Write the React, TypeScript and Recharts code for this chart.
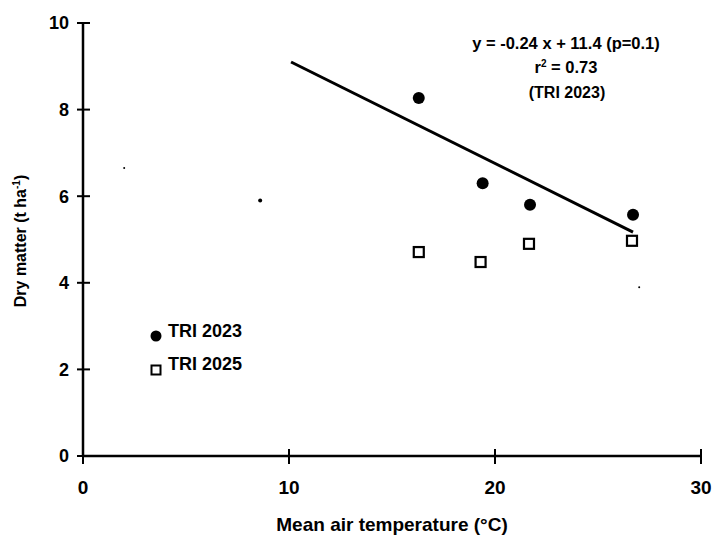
import React from "react";
import { ScatterChart, Scatter, XAxis, YAxis, Customized } from "recharts";

const xTicks = [0, 10, 20, 30];
const yTicks = [0, 2, 4, 6, 8, 10];

const tri2023 = [
  { x: 16.3, y: 8.27 },
  { x: 19.4, y: 6.3 },
  { x: 21.7, y: 5.8 },
  { x: 26.7, y: 5.57 },
];

const tri2025 = [
  { x: 16.3, y: 4.71 },
  { x: 19.3, y: 4.48 },
  { x: 21.65, y: 4.9 },
  { x: 26.65, y: 4.97 },
];

const fitLine = [
  { x: 10.1, y: 9.1 },
  { x: 26.7, y: 5.17 },
];

const specks = [
  { x: 8.6, y: 5.9, r: 2 },
  { x: 2.0, y: 6.65, r: 1 },
  { x: 27.0, y: 3.9, r: 1 },
];

const seriesNames = ["TRI 2023", "TRI 2025"];
const equationLines = ["y = -0.24 x + 11.4 (p=0.1)", "0.73", "(TRI 2023)"];

const FONT = "'Liberation Sans', Arial, Helvetica, sans-serif";

const YTick = (p: any) => (
  <g>
    <line x1={p.x - 6} x2={p.x + 7} y1={p.y} y2={p.y} stroke="#000" strokeWidth={2} />
    <text
      x={p.x - 14}
      y={p.y}
      dy="0.35em"
      textAnchor="end"
      fontFamily={FONT}
      fontWeight="bold"
      fontSize={18}
      fill="#000"
    >
      {p.payload.value}
    </text>
  </g>
);

const XTick = (p: any) => (
  <g>
    <line x1={p.x} x2={p.x} y1={p.y - 7} y2={p.y + 8} stroke="#000" strokeWidth={2} />
    <text
      x={p.x}
      y={p.y + 31}
      dy="0.35em"
      textAnchor="middle"
      fontFamily={FONT}
      fontWeight="bold"
      fontSize={19}
      fill="#000"
    >
      {p.payload.value}
    </text>
  </g>
);

const Dot = (p: any) => <circle cx={p.cx} cy={p.cy} r={6} fill="#000" />;
const Square = (p: any) => (
  <rect x={p.cx - 5} y={p.cy - 5} width={10} height={10} fill="#fff" stroke="#000" strokeWidth={2.2} />
);
const Speck = (p: any) => <circle cx={p.cx} cy={p.cy} r={p.payload?.r ?? 1} fill="#000" />;
const NoShape = () => <g />;

const Annotations = () => (
  <g fontFamily={FONT} fontWeight="bold" fill="#000">
    <text x={566} y={43} dy="0.35em" textAnchor="middle" fontSize={16.5}>
      {equationLines[0]}
    </text>
    <text x={566} y={67} dy="0.35em" textAnchor="middle" fontSize={16.5}>
      r<tspan fontSize={10} dy={-6}>2</tspan>
      <tspan dy={6}> = {equationLines[1]}</tspan>
    </text>
    <text x={567} y={92} dy="0.35em" textAnchor="middle" fontSize={16}>
      {equationLines[2]}
    </text>
    <text
      x={26}
      y={241}
      transform="rotate(-90, 26, 241)"
      textAnchor="middle"
      fontSize={16}
    >
      Dry matter (t ha<tspan fontSize={10} dy={-6}>-1</tspan>
      <tspan dy={6}>)</tspan>
    </text>
    <text x={392} y={524} dy="0.35em" textAnchor="middle" fontSize={19}>
      Mean air temperature (°C)
    </text>
    {/* legend */}
    <circle cx={156} cy={336} r={5.5} fill="#000" />
    <text x={168} y={331} dy="0.35em" fontSize={18}>
      {seriesNames[0]}
    </text>
    <rect x={151.5} y={365.5} width={9} height={9} fill="#fff" stroke="#000" strokeWidth={2} />
    <text x={168} y={364} dy="0.35em" fontSize={18}>
      {seriesNames[1]}
    </text>
  </g>
);

export default function App() {
  return (
    <div style={{ position: "absolute", left: 0, top: 0, width: 712, height: 536, background: "#fff" }}>
      <ScatterChart width={712} height={536} margin={{ top: 23, right: 11, left: 0, bottom: 0 }}>
        <XAxis
          type="number"
          dataKey="x"
          domain={[0, 30]}
          ticks={xTicks}
          height={80}
          axisLine={{ stroke: "#000", strokeWidth: 2.5 }}
          tickLine={false}
          tickSize={0}
          tickMargin={0}
          tick={<XTick />}
          interval={0}
        />
        <YAxis
          type="number"
          dataKey="y"
          domain={[0, 10]}
          ticks={yTicks}
          width={83}
          axisLine={{ stroke: "#000", strokeWidth: 2.5 }}
          tickLine={false}
          tickSize={0}
          tickMargin={0}
          tick={<YTick />}
          interval={0}
        />
        <Scatter data={fitLine} line={{ stroke: "#000", strokeWidth: 3 }} shape={<NoShape />} isAnimationActive={false} legendType="none" />
        <Scatter name={seriesNames[0]} data={tri2023} shape={<Dot />} isAnimationActive={false} />
        <Scatter name={seriesNames[1]} data={tri2025} shape={<Square />} isAnimationActive={false} />
        <Scatter data={specks} shape={<Speck />} isAnimationActive={false} legendType="none" />
        <Customized component={<Annotations />} />
      </ScatterChart>
    </div>
  );
}
